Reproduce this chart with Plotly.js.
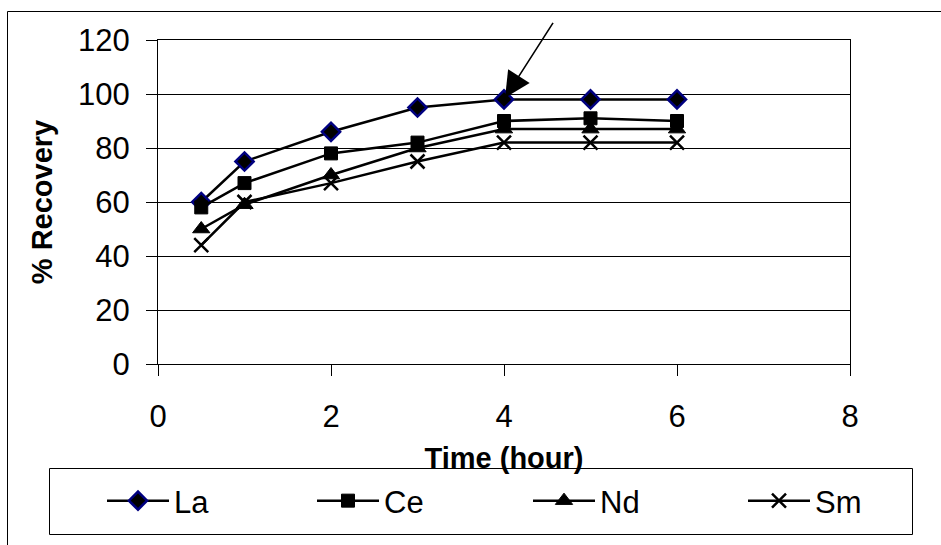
<!DOCTYPE html>
<html>
<head>
<meta charset="utf-8">
<script src="https://cdn.plot.ly/plotly-3.0.1.min.js"></script>
<style>html,body{margin:0;padding:0;background:#fff;}#chart{width:941px;height:545px;}</style>
</head>
<body>
<div id="chart"></div>
<script>
// Data
var timeHours = [0.5, 1, 2, 3, 4, 5, 6];
var seriesNames = ["La", "Ce", "Nd", "Sm"];
var laRecovery = [60, 75, 86, 95, 98, 98, 98];
var ceRecovery = [58, 67, 78, 82, 90, 91, 90];
var ndRecovery = [50, 59, 70, 80, 87, 87, 87];
var smRecovery = [44, 60, 67, 75, 82, 82, 82];
var xTickVals = [0, 2, 4, 6, 8];
var yTickVals = [0, 20, 40, 60, 80, 100, 120];

var FONT = "Liberation Sans, Arial, sans-serif";

// plot area in pixels
var L = 158, R = 850, T = 40, B = 364, W = 941, H = 545;
function px(x) { return (x - L) / (R - L); }
function py(y) { return (B - y) / (B - T); }

var lineStyle = {color: "#000", width: 2.5};
var traces = [
  {x: timeHours, y: laRecovery, name: seriesNames[0], mode: "lines+markers", line: lineStyle, legend: "legend",
   marker: {symbol: "diamond", size: 14, color: "#000", line: {color: "#000080", width: 2.5}}},
  {x: timeHours, y: ceRecovery, name: seriesNames[1], mode: "lines+markers", line: lineStyle, legend: "legend2",
   marker: {symbol: "square", size: 13, color: "#000", line: {color: "#000", width: 1}}},
  {x: timeHours, y: ndRecovery, name: seriesNames[2], mode: "lines+markers", line: lineStyle, legend: "legend3",
   marker: {symbol: "triangle-up", size: 15, color: "#000", line: {color: "#000", width: 1}}},
  {x: timeHours, y: smRecovery, name: seriesNames[3], mode: "lines+markers", line: lineStyle, legend: "legend4",
   marker: {symbol: "x-thin", size: 14, color: "#000", line: {color: "#000", width: 2.5}}}
];

function legendAt(pxStart) {
  return {
    orientation: "h", x: px(pxStart), xanchor: "left", y: py(501), yanchor: "middle",
    font: {family: FONT, size: 31, color: "#000"},
    bgcolor: "rgba(0,0,0,0)", borderwidth: 0, itemwidth: 62
  };
}

var layout = {
  width: W, height: H,
  margin: {l: L, r: W - R, t: T, b: H - B, pad: 0},
  paper_bgcolor: "#fff", plot_bgcolor: "#fff",
  font: {family: FONT, color: "#000", size: 30},
  showlegend: true,
  xaxis: {
    range: [0, 8], tickvals: xTickVals, ticktext: xTickVals.map(String),
    ticks: "outside", ticklen: 11, tickwidth: 1, tickcolor: "#000",
    showline: true, linecolor: "#000", linewidth: 1, mirror: true,
    showgrid: false, zeroline: false,
    tickfont: {family: FONT, size: 31, color: "#000"},
    ticklabelstandoff: 14,
    title: {text: "<b>Time (hour)</b>", font: {family: FONT, size: 29, color: "#000"}, standoff: 14}
  },
  yaxis: {
    range: [0, 120], tickvals: yTickVals, ticktext: yTickVals.map(String),
    ticks: "outside", ticklen: 11, tickwidth: 1, tickcolor: "#000",
    showline: true, linecolor: "#000", linewidth: 1, mirror: true,
    showgrid: true, gridcolor: "#000", gridwidth: 1, zeroline: false,
    tickfont: {family: FONT, size: 31, color: "#000"},
    ticklabelstandoff: 10,
    title: {text: "<b>% Recovery</b>", font: {family: FONT, size: 29, color: "#000"}, standoff: 16}
  },
  legend: legendAt(102),
  legend2: legendAt(312),
  legend3: legendAt(528),
  legend4: legendAt(743),
  shapes: [
    // outer frame of the chart (left and top edges visible)
    {type: "rect", xref: "paper", yref: "paper", x0: px(7.5), x1: px(960), y0: py(11.5), y1: py(570),
     line: {color: "#000", width: 1}, fillcolor: "rgba(0,0,0,0)", layer: "below"},
    // legend frame
    {type: "rect", xref: "paper", yref: "paper", x0: px(49.5), x1: px(912.5), y0: py(468.5), y1: py(534.5),
     line: {color: "#000", width: 1}, fillcolor: "#fff", layer: "below"}
  ],
  annotations: [
    {x: 4, y: 98, xref: "x", yref: "y", text: "", showarrow: true,
     ax: 50, ay: -78, arrowhead: 2, arrowsize: 3.2, arrowwidth: 1.6, arrowcolor: "#000", standoff: 2}
  ]
};

Plotly.newPlot("chart", traces, layout, {displayModeBar: false, staticPlot: true});
</script>
</body>
</html>
